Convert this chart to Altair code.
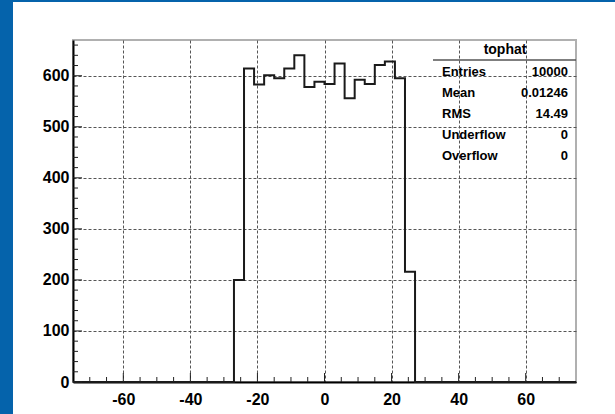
import altair as alt
import pandas as pd

# ---- data ----
bin_low = [-27, -24, -21, -18, -15, -12, -9, -6, -3, 0, 3, 6, 9, 12, 15, 18, 21, 24]
counts = [200, 614, 583, 601, 595, 614, 640, 578, 588, 584, 624, 556, 592, 584, 621, 628, 595, 216]
bin_width = 3
x_range = [-75, 75]
y_range = [0, 670]

x_major = [-60, -40, -20, 0, 20, 40, 60]
y_major = [0, 100, 200, 300, 400, 500, 600]
x_minor = [v for v in range(-70, 75, 5) if v % 20 != 0]
y_minor = [v for v in range(20, 670, 20) if v % 100 != 0]

stat_title = "tophat"
stat_names = ["Entries", "Mean", "RMS", "Underflow", "Overflow"]
stat_values = ["10000", "0.01246", "14.49", "0", "0"]

W, H = 503, 342
FONT = "Liberation Sans"
BLUE = "#0563ab"

# step outline points
xs = [x_range[0]] + bin_low + [bin_low[-1] + bin_width, x_range[1]]
ys = [0] + counts + [0, 0]
hist = pd.DataFrame({"x": xs, "y": ys})

xscale = alt.Scale(domain=x_range, nice=False, zero=False)
yscale = alt.Scale(domain=y_range, nice=False, zero=False)

grid_kw = dict(grid=True, gridColor="#555555", gridDash=[3, 2], gridWidth=1)
hyphen = "datum.value < 0 ? '-' + abs(datum.value) : '' + datum.value"
x_axis = alt.Axis(
    values=x_major, title=None, tickSize=0, labelPadding=9, labelExpr=hyphen,
    labelFont=FONT, labelFontSize=16, labelFontWeight="bold", labelColor="black",
    domainColor="black", domainWidth=2, **grid_kw)
y_axis = alt.Axis(
    values=y_major, title=None, tickSize=0, labelPadding=4,
    labelFont=FONT, labelFontSize=16, labelFontWeight="bold", labelColor="black",
    domainColor="black", domainWidth=2, **grid_kw)

line = alt.Chart(hist).mark_line(
    interpolate="step-after", color="#1a1a1a", strokeWidth=2
).encode(
    x=alt.X("x:Q", scale=xscale, axis=x_axis),
    y=alt.Y("y:Q", scale=yscale, axis=y_axis),
)

layers = [line]

# inward tick marks
def xticks(vals, length):
    return alt.Chart(pd.DataFrame({"x": vals})).mark_rule(color="#222", strokeWidth=1).encode(
        x=alt.X("x:Q", scale=xscale, axis=x_axis),
        y=alt.value(H), y2=alt.value(H - length))

def yticks(vals, length):
    return alt.Chart(pd.DataFrame({"y": vals})).mark_rule(color="#222", strokeWidth=1).encode(
        y=alt.Y("y:Q", scale=yscale, axis=y_axis),
        x=alt.value(0), x2=alt.value(length))

layers += [xticks(x_major, 9), xticks(x_minor, 5), yticks(y_major, 9), yticks(y_minor, 5)]

# stats box
one = pd.DataFrame({"a": [0]})
layers.append(alt.Chart(one).mark_rule(color="#555", strokeWidth=1.5).encode(
    x=alt.value(360), x2=alt.value(W), y=alt.value(20)))
layers.append(alt.Chart(pd.DataFrame({"s": [stat_title]})).mark_text(
    font=FONT, fontSize=14, fontWeight="bold", align="center", baseline="middle", color="black"
).encode(x=alt.value(432), y=alt.value(10), text="s:N"))
for i, (n, v) in enumerate(zip(stat_names, stat_values)):
    yy = 31.5 + 21.2 * i
    layers.append(alt.Chart(pd.DataFrame({"s": [n]})).mark_text(
        font=FONT, fontSize=13, fontWeight="bold", align="left", baseline="middle", color="black"
    ).encode(x=alt.value(369), y=alt.value(yy), text="s:N"))
    layers.append(alt.Chart(pd.DataFrame({"s": [v]})).mark_text(
        font=FONT, fontSize=13, fontWeight="bold", align="right", baseline="middle", color="black"
    ).encode(x=alt.value(495), y=alt.value(yy), text="s:N"))

# blue page border (left and top)
layers.append(alt.Chart(one).mark_rect(color=BLUE).encode(
    x=alt.value(-73), x2=alt.value(-60), y=alt.value(-40), y2=alt.value(H + 40)))
layers.append(alt.Chart(one).mark_rect(color=BLUE).encode(
    x=alt.value(-73), x2=alt.value(W + 40), y=alt.value(-40), y2=alt.value(-38)))

chart = alt.layer(*layers).properties(
    width=W, height=H, autosize="none",
    padding={"left": 73, "top": 40, "right": 39, "bottom": 32},
    background="white",
).configure_view(stroke="#b0b0b0", strokeWidth=2)

chart.save("out.html", embed_options={"renderer": "svg", "actions": False})
